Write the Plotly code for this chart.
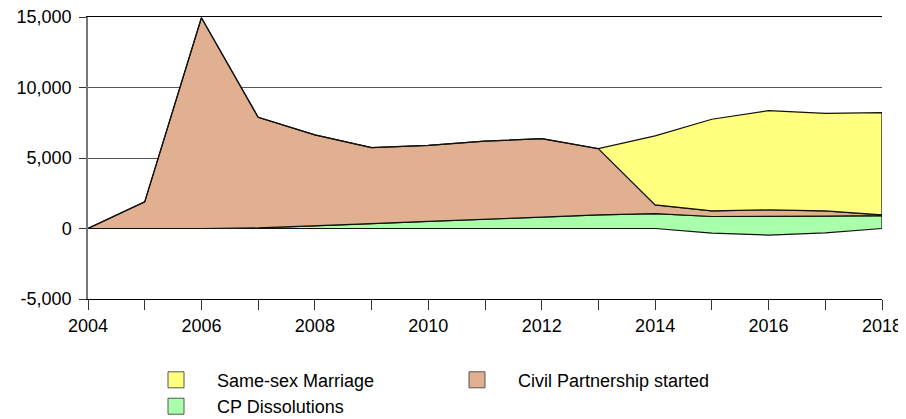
import numpy as np
import plotly.graph_objects as go

years = list(range(2004, 2019))
# lower offset of the dissolutions band
dissolution_base = [0, 0, 0, 0, 0, 0, 0, 0, 0, 0, 0, -330, -470, -305, 0]
cp_dissolutions = [0, 0, 0, 40, 180, 350, 510, 670, 800, 970, 1060, 1180, 1320, 1185, 920]
civil_partnerships = [0, 1890, 14950, 7850, 6460, 5390, 5390, 5520, 5570, 4690, 620, 400, 470, 370, 50]
same_sex_marriages = [0, 0, 0, 0, 0, 0, 0, 0, 0, 0, 4890, 6500, 7040, 6920, 7250]

x_tick_vals = list(range(2004, 2019, 2))
y_tick_vals = [-5000, 0, 5000, 10000, 15000]
y_tick_text = ["-5,000", "0", "5,000", "10,000", "15,000"]

YELLOW = "#FFFF80"
BROWN = "#E0B090"
GREEN = "#AAFFAA"
FONT = "Liberation Sans, Arial, sans-serif"

b0 = np.array(dissolution_base, dtype=float)
b1 = b0 + np.array(cp_dissolutions)
b2 = b1 + np.array(civil_partnerships)
b3 = b2 + np.array(same_sex_marriages)


def band(lower, upper, color):
    xs = years + years[::-1]
    ys = list(upper) + list(lower[::-1])
    return go.Scatter(x=xs, y=ys, mode="lines", fill="toself", fillcolor=color,
                      line=dict(color="#111111", width=1.2),
                      showlegend=False, hoverinfo="skip")


fig = go.Figure()
fig.add_trace(band(b0, b1, GREEN))
fig.add_trace(band(b1, b2, BROWN))
fig.add_trace(band(b2, b3, YELLOW))

# legend entries
for name, col in [("Same-sex Marriage", YELLOW), ("Civil Partnership started", BROWN),
                  ("CP Dissolutions", GREEN)]:
    fig.add_trace(go.Scatter(x=[None], y=[None], mode="markers", name=name,
                             marker=dict(symbol="square", size=19, color=col,
                                         line=dict(color="#555555", width=1))))

# the page adds an 8px body margin, so the figure is 8px smaller on each side
fig.update_layout(
    width=898, height=411,
    margin=dict(l=80, r=24, t=8.5, b=120, autoexpand=False),
    paper_bgcolor="white", plot_bgcolor="white",
    font=dict(family=FONT, size=18, color="#000000"),
    showlegend=True,
    legend=dict(orientation="h", x=0.0592, y=-0.222, xref="paper", yref="paper",
                xanchor="left", yanchor="top",
                entrywidth=214, entrywidthmode="pixels", itemwidth=72,
                traceorder="normal",
                font=dict(family=FONT, size=18), bgcolor="rgba(0,0,0,0)"),
    xaxis=dict(range=[2004, 2018], tickvals=x_tick_vals, showgrid=False, zeroline=False,
               automargin=False, mirror=True,
               showline=True, linecolor="#000000", linewidth=1,
               ticks="outside", ticklen=10, tickcolor="#333333", tickwidth=1,
               minor=dict(dtick=1, tick0=2004, ticks="outside", ticklen=10,
                          tickcolor="#333333", tickwidth=1, showgrid=False),
               tickfont=dict(family=FONT, size=18)),
    yaxis=dict(range=[-5000, 15000], tickvals=y_tick_vals, ticktext=y_tick_text,
               automargin=False, ticklabeloverflow="allow",
               showgrid=True, gridcolor="#555555", gridwidth=1, zeroline=False,
               showline=True, linecolor="#777777", linewidth=1.5,
               ticks="outside", ticklen=7, tickcolor="#333333", tickwidth=1,
               ticklabelstandoff=4,
               tickfont=dict(family=FONT, size=18)),
)

fig.write_html("out.html")
